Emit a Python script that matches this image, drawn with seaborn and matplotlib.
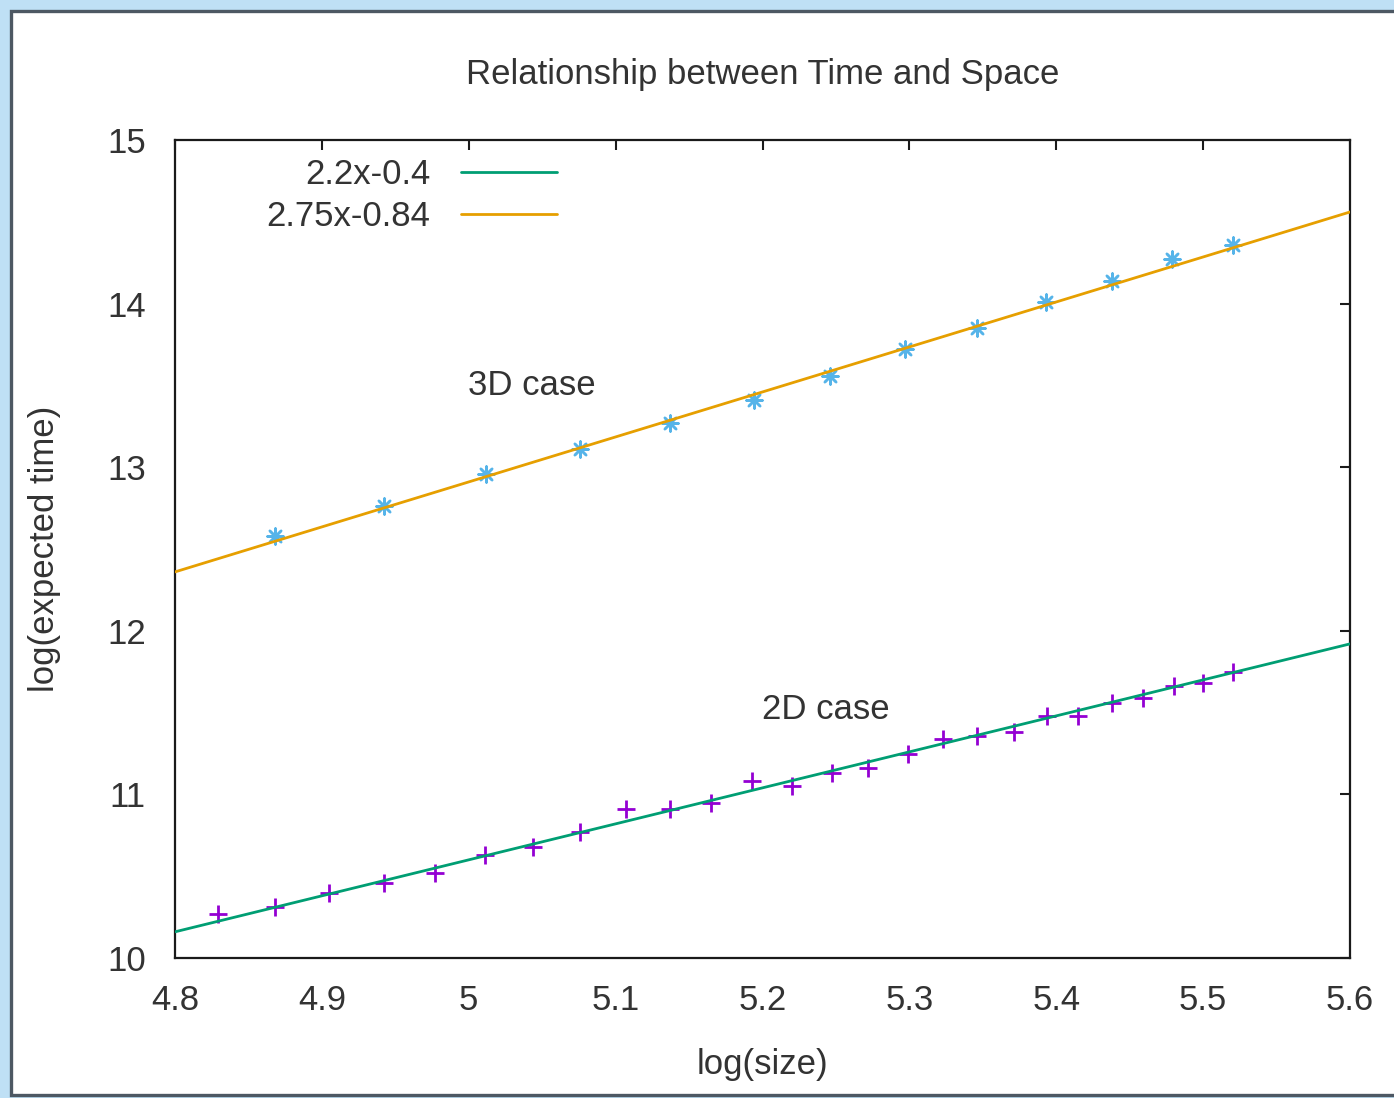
import matplotlib
matplotlib.use("Agg")
import matplotlib.pyplot as plt
from matplotlib.patches import Rectangle
import seaborn as sns
import pandas as pd

# ---- data ----
size_2d = [4.829, 4.868, 4.905, 4.942, 4.977, 5.011, 5.044, 5.076, 5.107, 5.137,
           5.165, 5.193, 5.220, 5.247, 5.272, 5.299, 5.323, 5.346, 5.371, 5.394,
           5.415, 5.438, 5.459, 5.480, 5.500, 5.520]
time_2d = [10.27, 10.31, 10.40, 10.46, 10.52, 10.63, 10.68, 10.77, 10.91, 10.91,
           10.95, 11.08, 11.05, 11.13, 11.16, 11.25, 11.34, 11.36, 11.38, 11.48,
           11.48, 11.56, 11.59, 11.66, 11.68, 11.75]

size_3d = [4.868, 4.942, 5.012, 5.076, 5.137, 5.194, 5.246, 5.297, 5.346, 5.393,
           5.438, 5.479, 5.520]
time_3d = [12.58, 12.76, 12.96, 13.11, 13.27, 13.41, 13.56, 13.72, 13.85, 14.01,
           14.14, 14.27, 14.36]

fit_x = [4.8, 5.6]
fit_2d = [10.16, 11.92]   # 2.2x-0.4
fit_3d = [12.36, 14.56]   # 2.75x-0.84

fit_labels = ["2.2x-0.4", "2.75x-0.84"]
x_ticks = [4.8, 4.9, 5.0, 5.1, 5.2, 5.3, 5.4, 5.5, 5.6]
x_ticklabels = ["4.8", "4.9", "5", "5.1", "5.2", "5.3", "5.4", "5.5", "5.6"]
y_ticks = [10, 11, 12, 13, 14, 15]

# ---- style ----
sns.set_style("white")
plt.rcParams["font.family"] = ["Liberation Sans", "DejaVu Sans"]
TXT = "#333333"
FS = 25

W, H = 1394, 1098
fig = plt.figure(figsize=(W / 100, H / 100), dpi=100, facecolor="#bfe0f5")
# white panel with dark frame
fig.patches.append(Rectangle((11 / W, 3 / H), 1.2, (H - 14) / H,
                             transform=fig.transFigure, facecolor="white",
                             edgecolor="#4d5863", linewidth=2.4, zorder=-5))

ax = fig.add_axes([175 / W, (H - 958) / H, (1350 - 175) / W, (958 - 140) / H])
ax.set_facecolor("white")
ax.set_zorder(1)

df2 = pd.DataFrame({"x": size_2d, "y": time_2d})
df3 = pd.DataFrame({"x": size_3d, "y": time_3d})
dfl2 = pd.DataFrame({"x": fit_x, "y": fit_2d})
dfl3 = pd.DataFrame({"x": fit_x, "y": fit_3d})

sns.scatterplot(data=df2, x="x", y="y", marker="+", s=150, color="#9400d3",
                linewidth=2, ax=ax, zorder=2)
sns.scatterplot(data=df3, x="x", y="y", marker=(8, 2, 0), s=130, color="#56b4e9",
                linewidth=1.8, ax=ax, zorder=2)
sns.lineplot(data=dfl2, x="x", y="y", color="#009e73", linewidth=2.0, ax=ax,
             label=fit_labels[0], zorder=3)
sns.lineplot(data=dfl3, x="x", y="y", color="#e69f00", linewidth=2.0, ax=ax,
             label=fit_labels[1], zorder=3)

ax.set_xlim(4.8, 5.6)
ax.set_ylim(10, 15)
ax.set_xticks(x_ticks)
ax.set_xticklabels(x_ticklabels)
ax.set_yticks(y_ticks)

for sp in ax.spines.values():
    sp.set_visible(True)
    sp.set_color("#1a1a1a")
    sp.set_linewidth(1.6)
ax.tick_params(axis="both", which="major", direction="in", length=7, width=1.5,
               color="#1a1a1a", top=True, right=True, labelsize=FS,
               labelcolor=TXT)
ax.tick_params(axis="x", pad=19)
ax.tick_params(axis="y", pad=21)

ax.set_title("Relationship between Time and Space", fontsize=FS, color=TXT, pad=40)
ax.set_xlabel("log(size)", fontsize=FS, color=TXT, labelpad=22)
ax.set_ylabel("log(expected time)", fontsize=FS, color=TXT, labelpad=33)

ax.text(5.043, 13.50, "3D case", fontsize=FS, color=TXT, ha="center", va="center")
ax.text(5.243, 11.516, "2D case", fontsize=FS, color=TXT, ha="center", va="center")

leg = ax.legend(loc="upper right", bbox_to_anchor=(0.325, 0.978), frameon=False,
                markerfirst=False, fontsize=FS, handlelength=2.75,
                handletextpad=0.9, labelspacing=0.25, borderpad=0,
                borderaxespad=0)
for t in leg.get_texts():
    t.set_color(TXT)

fig.savefig("out.png", dpi=100, facecolor=fig.get_facecolor())
